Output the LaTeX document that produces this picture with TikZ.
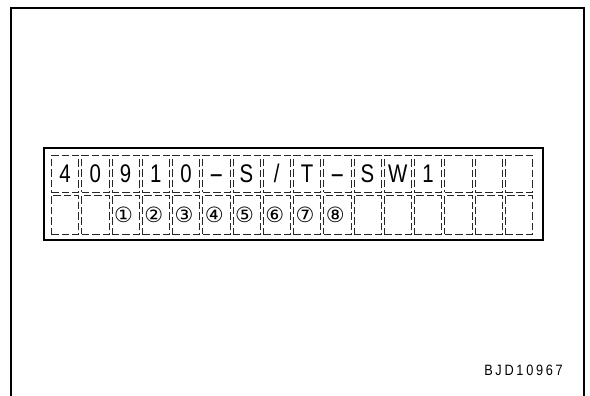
\documentclass[tikz,border=0pt]{standalone}
\usepackage{fontspec}
\setmainfont{Liberation Sans}
\newfontfamily\lcdfont[FakeStretch=0.8]{Liberation Sans}
\newfontfamily\circfont{DejaVu Sans}
\newfontfamily\codefont[FakeStretch=0.85,LetterSpace=18]{Liberation Sans}
\newcommand\widehy{\scalebox{2.2}[1]{-}}
\begin{document}
\begin{tikzpicture}[x=1pt,y=-1pt,
  cellbase/.style={draw=black!85, dash pattern=on 7.5pt off 3pt, line width=0.8pt,
    minimum width=27.25pt, inner sep=0pt, anchor=north west},
  cellA/.style={cellbase, minimum height=36.7pt,
    font=\lcdfont\fontsize{25.5}{25.5}\selectfont, text height=18.3pt, text depth=0pt},
  cellB/.style={cellbase, minimum height=39pt},
  circ/.style={inner sep=0pt, font=\circfont\fontsize{21}{21}\selectfont, xshift=-2pt},
  frameline/.style={line width=2pt, line cap=rect},
  display/.style={draw, line width=1.6pt, minimum width=499pt, minimum height=92pt,
    inner sep=0pt, anchor=north west},
  code/.style={font=\codefont\fontsize{15}{15}\selectfont, inner sep=0pt}
]
\useasboundingbox (0,0) rectangle (590,396);
% outer frame (open at the bottom)
\draw[frameline] (11,400) -- (11,8) -- (583.5,8) -- (583.5,400);
% display frame
\node[display] (disp) at (43,147) {};
% cells
\foreach \ch [count=\i from 0] in {4,0,9,1,0,\widehy,S,/,T,\widehy,S,W,1,{},{},{}} {
  \node[cellA] (a\i) at ({51+\i*30.25},155) {\ch};
  \node[cellB] (b\i) at ({51+\i*30.25},195) {};
}
% circled numbers
\foreach \d [count=\k from 2] in {①,②,③,④,⑤,⑥,⑦,⑧} {
  \node[circ] (n\k) at (b\k.center) {\d};
}
\node[code] (id) at (523.5,370.5) {BJD10967};
\end{tikzpicture}
\end{document}
